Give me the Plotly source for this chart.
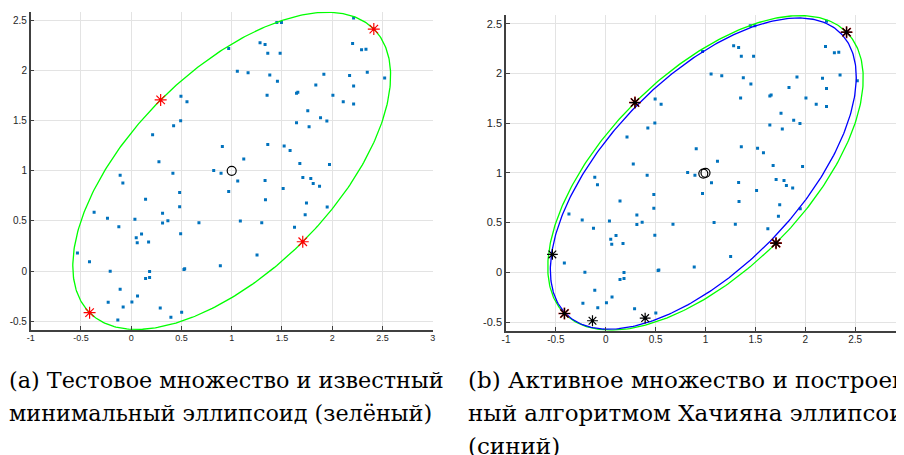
import numpy as np
import plotly.graph_objects as go

# ---------------- data ----------------
pts_x = [2.213, 1.449, 1.495, 0.970, 1.282, 1.332, 1.359, 1.482, 2.203, 2.292, 2.336,
         1.056, 1.163, 1.379, 1.455, 2.173, 2.349, 1.917, 2.522, 1.837, 2.213, 1.645,
         1.658, 1.352, 2.007, 2.110, 2.213, 0.495, 0.555, 1.757, 0.492, 0.422, 1.645,
         1.770, 1.884, 1.947, 0.213, 0.907, 1.359, 1.522, 1.581, 1.120, 0.276, 1.678,
         1.973, -0.110, -0.083, 0.415, 0.821, 0.894, 1.060, 1.332, 1.708, 1.787, 1.811,
         1.874, 0.970, 0.482, 1.512, 0.143, 1.336, 1.744, -0.369, 0.482, 1.950, 0.312,
         1.731, -0.236, 0.037, 0.365, 0.312, 0.674, 1.086, 1.299, -0.123, 1.625, 0.103,
         0.492, 0.050, 0.060, 0.173, -0.535, -0.415, 1.252, -0.209, 0.183, 0.525, 0.532,
         0.887, 0.143, 0.183, -0.110, 0.063, -0.229, 0.007, -0.080, 0.289, 0.502, 0.395,
         -0.133, 2.414, 0.293, 1.707, -0.414]
pts_y = [2.523, 2.480, 2.480, 2.220, 2.277, 2.260, 2.173, 2.173, 2.270, 2.207, 2.213,
         1.993, 1.977, 1.957, 1.893, 1.950, 1.983, 1.963, 1.927, 1.857, 1.847, 1.773,
         1.783, 1.753, 1.753, 1.690, 1.667, 1.743, 1.690, 1.600, 1.500, 1.450, 1.480,
         1.440, 1.530, 1.497, 1.360, 1.243, 1.263, 1.247, 1.203, 1.117, 1.090, 1.073,
         1.063, 0.957, 0.880, 0.977, 1.003, 0.977, 0.900, 0.903, 0.933, 0.923, 0.873,
         0.847, 0.793, 0.783, 0.823, 0.717, 0.713, 0.680, 0.587, 0.643, 0.640, 0.577,
         0.563, 0.527, 0.517, 0.503, 0.480, 0.483, 0.500, 0.483, 0.443, 0.437, 0.370,
         0.373, 0.333, 0.283, 0.290, 0.180, 0.093, 0.160, 0.000, -0.003, 0.017, 0.023,
         0.053, -0.073, -0.063, -0.180, -0.247, -0.310, -0.307, -0.357, -0.367, -0.410,
         -0.460, -0.487, 2.414, 1.707, 0.293, -0.414]

# known minimal ellipse touch points (red) and active set (black)
touch_x = [2.414, 0.293, 1.707, -0.414]
touch_y = [2.414, 1.707, 0.293, -0.414]
active_x = [2.414, 0.293, 1.707, -0.414, -0.535, -0.133, 0.395]
active_y = [2.414, 1.707, 0.293, -0.414, 0.180, -0.487, -0.460]

# ellipse parameters
green_center = [1.0, 1.0]
green_semi_axes = [2.0, 1.0]
green_angle_deg = 45.0
blue_center = [0.978, 0.993]
blue_cov = [[2.352, 1.487], [1.487, 2.448]]

x_ticks = [-1, -0.5, 0, 0.5, 1, 1.5, 2, 2.5, 3]
x_tick_text = ["-1", "-0.5", "0", "0.5", "1", "1.5", "2", "2.5", "3"]
y_ticks = [-0.5, 0, 0.5, 1, 1.5, 2, 2.5]
y_tick_text = ["-0.5", "0", "0.5", "1", "1.5", "2", "2.5"]

caption_a = ["(a) Тестовое множество и известный", "минимальный эллипсоид (зелёный)"]
caption_b = ["(b) Активное множество и построен-", "ный алгоритмом Хачияна эллипсоид", "(синий)"]

# ---------------- geometry ----------------
t = np.linspace(0, 2 * np.pi, 400)
th = np.deg2rad(green_angle_deg)
gx = green_center[0] + green_semi_axes[0] * np.cos(t) * np.cos(th) - green_semi_axes[1] * np.sin(t) * np.sin(th)
gy = green_center[1] + green_semi_axes[0] * np.cos(t) * np.sin(th) + green_semi_axes[1] * np.sin(t) * np.cos(th)
L = np.linalg.cholesky(np.array(blue_cov))
bxy = L @ np.vstack([np.cos(t), np.sin(t)])
bx = blue_center[0] + bxy[0]
by = blue_center[1] + bxy[1]

W, H = 904, 455
OFF = 8  # page body margin

def px(sx):
    return (sx - OFF) / W

def py(sy):
    return 1 - (sy - OFF) / H

fig = go.Figure()

BLUE = "#0072BD"
def add_common(xa, ya):
    fig.add_trace(go.Scatter(x=pts_x, y=pts_y, mode="markers", xaxis=xa, yaxis=ya,
                             marker=dict(symbol="square", size=3, color=BLUE, line=dict(width=0))))

def open_marker(symbol, size, color, width):
    return dict(symbol=symbol, size=size, color=color, line=dict(color=color, width=width))

# left panel
add_common("x", "y")
fig.add_trace(go.Scatter(x=gx, y=gy, mode="lines", line=dict(color="#00FF00", width=1.3), xaxis="x", yaxis="y"))
fig.add_trace(go.Scatter(x=touch_x, y=touch_y, mode="markers", xaxis="x", yaxis="y",
                         marker=open_marker("asterisk-open", 10, "#FF0000", 1.2)))
fig.add_trace(go.Scatter(x=[green_center[0]], y=[green_center[1]], mode="markers", xaxis="x", yaxis="y",
                         marker=open_marker("circle-open", 9, "#000000", 1.2)))

# right panel
add_common("x2", "y2")
fig.add_trace(go.Scatter(x=gx, y=gy, mode="lines", line=dict(color="#00FF00", width=1.3), xaxis="x2", yaxis="y2"))
fig.add_trace(go.Scatter(x=bx, y=by, mode="lines", line=dict(color="#0000FF", width=1.3), xaxis="x2", yaxis="y2"))
fig.add_trace(go.Scatter(x=touch_x, y=touch_y, mode="markers", xaxis="x2", yaxis="y2",
                         marker=open_marker("asterisk-open", 10, "#B00000", 1.6)))
fig.add_trace(go.Scatter(x=active_x, y=active_y, mode="markers", xaxis="x2", yaxis="y2",
                         marker=open_marker("asterisk-open", 9, "#000000", 1.2)))
fig.add_trace(go.Scatter(x=[green_center[0], blue_center[0]], y=[green_center[1], blue_center[1]],
                         mode="markers", xaxis="x2", yaxis="y2",
                         marker=open_marker("circle-open", 9, "#000000", 1.2)))

def xax(domain, fs, anchor, standoff):
    return dict(domain=domain, range=[-1, 3], tickvals=x_ticks, ticktext=x_tick_text, anchor=anchor,
                showgrid=True, gridcolor="#E3E3E3", gridwidth=1, zeroline=False,
                showline=True, linecolor="#404040", linewidth=1.5, automargin=False,
                ticks="inside", ticklen=4, tickcolor="#404040", ticklabelstandoff=standoff,
                tickfont=dict(family="Liberation Sans, Arial", size=fs, color="#262626"))

def yax(domain, anchor, fs):
    return dict(domain=domain, range=[-0.587, 2.587], tickvals=y_ticks, ticktext=y_tick_text, anchor=anchor,
                showgrid=True, gridcolor="#E3E3E3", gridwidth=1, zeroline=False,
                showline=True, linecolor="#404040", linewidth=1.5, automargin=False,
                ticks="inside", ticklen=4, tickcolor="#404040",
                tickfont=dict(family="Liberation Sans, Arial", size=fs, color="#262626"))

SERIF = "DejaVu Serif"
ann = []
for i, s in enumerate(caption_a):
    ann.append(dict(text=s, x=px(8), y=py(380 + 33 * i), xref="paper", yref="paper",
                    xanchor="left", yanchor="middle", showarrow=False, borderpad=0,
                    font=dict(family=SERIF, size=22.3, color="#000000")))
for i, s in enumerate(caption_b):
    ann.append(dict(text=s, x=px(467), y=py(380 + 33 * i), xref="paper", yref="paper",
                    xanchor="left", yanchor="middle", showarrow=False, borderpad=0,
                    font=dict(family=SERIF, size=23, color="#000000")))

fig.update_layout(
    width=W, height=H, showlegend=False,
    margin=dict(l=0, r=0, t=0, b=0),
    paper_bgcolor="white", plot_bgcolor="white",
    xaxis=xax([px(30.7), px(432.7)], 9, "y", -2),
    yaxis=yax([py(330), py(11.7)], "x", 10),
    xaxis2=xax([px(506), px(905)], 10, "y2", -1),
    yaxis2=yax([py(330.7), py(15)], "x2", 11),
    annotations=ann,
)

fig.write_html("out.html")
